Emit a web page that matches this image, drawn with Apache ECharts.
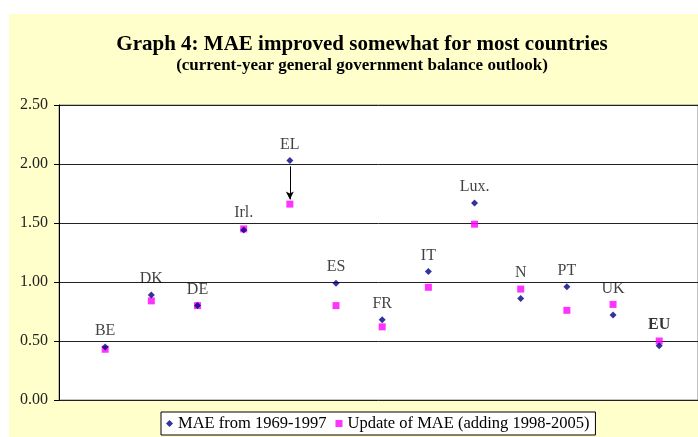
<!DOCTYPE html>
<html><head><meta charset="utf-8">
<script src="https://cdn.jsdelivr.net/npm/echarts@6/dist/echarts.min.js"></script>
<style>html,body{margin:0;padding:0;background:#fff}#c{width:698px;height:437px}</style>
</head><body><div id="c"></div>
<script>
const countries = ['BE','DK','DE','Irl.','EL','ES','FR','IT','Lux.','N','PT','UK','EU'];
const mae6997 = [0.45,0.89,0.80,1.44,2.03,0.99,0.68,1.09,1.67,0.86,0.96,0.72,0.46];
const maeUpdate = [0.43,0.84,0.80,1.45,1.66,0.80,0.62,0.955,1.49,0.94,0.76,0.81,0.50];
const yTicks = ['0.00','0.50','1.00','1.50','2.00','2.50'];
const arrowCountry = 'EL';

const serif = '"Liberation Serif","DejaVu Serif",serif';
const blueData = countries.map((c,i)=>[i+1, mae6997[i]]);
const pinkData = countries.map((c,i)=>[i+1, maeUpdate[i]]);
const labelData = countries.map((c,i)=>{
  const d = {value:[i+1, Math.max(mae6997[i], maeUpdate[i])], name:c};
  if (c==='EU') d.label = {fontWeight:'bold', color:'#000'};
  return d;
});
const ai = countries.indexOf(arrowCountry);

const chart = echarts.init(document.getElementById('c'));
chart.setOption({
  animation:false,
  backgroundColor:'#fff',
  graphic:[{type:'rect', left:9, top:14, shape:{width:700, height:430}, style:{fill:'#FFFFCC'}, z:-10}],
  title:{
    text:'Graph 4: MAE improved somewhat for most countries',
    subtext:'(current-year general government balance outlook)',
    left:357, textAlign:'center', top:29, itemGap:2,
    textStyle:{fontFamily:serif, fontSize:21, fontWeight:'bold', color:'#000'},
    subtextStyle:{fontFamily:serif, fontSize:17, fontWeight:'bold', color:'#000'}
  },
  grid:{left:59, top:105, bottom:37, right:0, show:true, backgroundColor:'#fff', borderColor:'#888', borderWidth:1},
  xAxis:{type:'value', min:0, max:13.84, show:false},
  yAxis:{type:'value', min:0, max:2.5, interval:0.5,
    axisLine:{show:true, lineStyle:{color:'#000', width:1}},
    axisTick:{show:true, length:5, lineStyle:{color:'#000'}},
    axisLabel:{fontFamily:serif, fontSize:16, color:'#222', margin:11, formatter:(v)=>yTicks[Math.round(v/0.5)]},
    splitLine:{lineStyle:{color:'#222', width:1}}
  },
  legend:{
    left:161, top:412, orient:'horizontal',
    borderColor:'#000', borderWidth:1, backgroundColor:'#fff', padding:[3,6,3,5],
    itemWidth:7, itemHeight:7, itemGap:9,
    textStyle:{fontFamily:serif, fontSize:16.5, color:'#000'},
    data:[{name:'MAE from 1969-1997', icon:'diamond'},{name:'Update of MAE (adding 1998-2005)', icon:'rect'}]
  },
  series:[
    {name:'Update of MAE (adding 1998-2005)', type:'scatter', data:pinkData, symbol:'rect', symbolSize:7, itemStyle:{color:'#FF00FF'}, z:3},
    {name:'MAE from 1969-1997', type:'scatter', data:blueData, symbol:'diamond', symbolSize:7, itemStyle:{color:'#000080'}, z:4,
      markLine:{silent:true, symbol:['none','arrow'], symbolSize:[6,8], label:{show:false},
        lineStyle:{color:'#000', width:1, type:'solid'},
        data:[[{coord:[ai+1, mae6997[ai]-0.05]},{coord:[ai+1, maeUpdate[ai]+0.04]}]]}
    },
    {name:'labels', type:'scatter', data:labelData, symbolSize:0, silent:true,
      label:{show:true, position:'top', distance:8, fontFamily:serif, fontSize:16, color:'#111',
        formatter:(p)=>p.name},
      labelLayout:{hideOverlap:false}
    }
  ]
});
</script></body></html>
